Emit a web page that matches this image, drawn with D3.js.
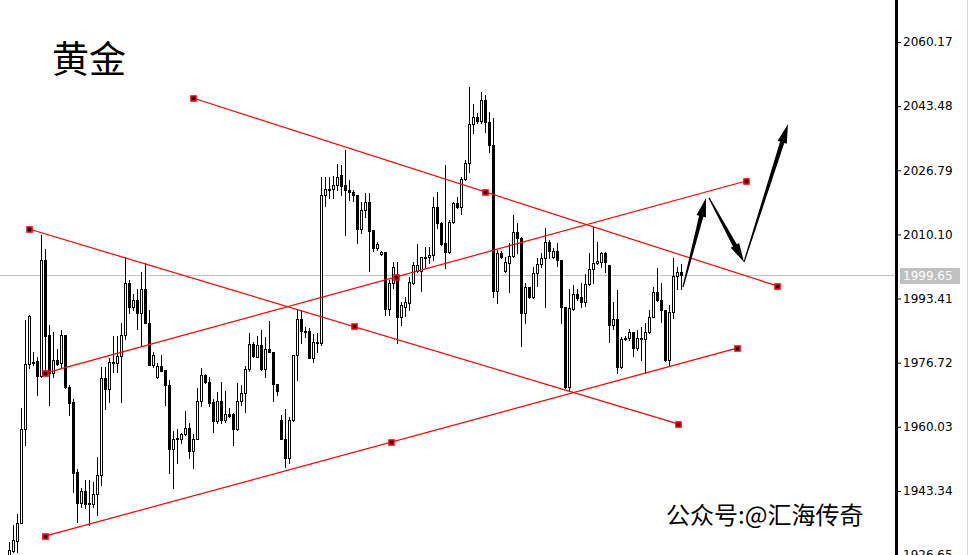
<!DOCTYPE html>
<html><head><meta charset="utf-8">
<script src="https://cdn.jsdelivr.net/npm/d3@7"></script>
<style>html,body{margin:0;padding:0;background:#fff;overflow:hidden}</style>
</head><body>
<svg id="c" width="968" height="555" xmlns="http://www.w3.org/2000/svg"></svg>
<script>
// ---- data ----
const opens = [
1926.7,1927.7,1930.3,1935.0,1959.5,1976.4,1976.9,1977.2,1973.3,2003.5,
1983.9,1974.1,1977.4,1976.7,1983.9,1970.4,1966.5,1948.3,1940.2,1943.3,
1940.0,1940.0,1942.6,1947.5,1972.8,1969.9,1976.7,1976.7,1978.5,1983.9,
1997.5,1991.2,1993.0,1989.7,1995.9,1987.1,1976.1,1973.0,1975.9,1974.8,
1970.9,1954.3,1956.9,1956.9,1958.2,1959.7,1953.8,1956.9,1966.8,1973.5,
1971.7,1966.5,1961.6,1966.8,1961.8,1963.4,1963.4,1959.5,1966.8,1968.8,
1975.1,1981.6,1978.2,1981.3,1975.1,1980.3,1979.5,1971.2,1961.8,1956.9,
1951.9,1961.8,1978.7,1988.1,1985.0,1985.0,1978.0,1981.9,1981.9,2020.4,
2021.7,2021.9,2023.0,2025.6,2023.0,2021.7,2021.1,2020.4,2011.5,2016.5,
2018.5,2011.3,2006.6,2005.0,2005.5,1990.7,1997.5,1999.0,1988.6,1991.2,
1992.3,1997.5,2000.6,2000.6,2004.0,2004.2,2004.8,2017.2,2013.1,2007.9,
2005.5,2013.3,2018.3,2017.2,2024.5,2028.7,2038.8,2040.7,2039.6,2045.1,
2039.4,2033.4,1995.4,2005.3,2000.6,2002.7,2004.5,2010.7,2009.2,1989.7,
1996.4,1993.8,2000.1,2002.4,2004.0,2008.1,2004.2,2005.8,2003.5,1991.2,
1970.4,1990.7,1994.6,1993.8,1992.5,1997.2,2001.1,2002.7,2002.9,2005.3,
2002.2,1986.5,1988.1,1975.6,1982.9,1983.2,1984.7,1980.6,1982.9,1982.9,
1984.7,1988.6,1995.1,1993.0,1990.4,1977.4,1989.9,1999.3,2000.3];
const highs = [
1930.1,1934.5,1937.4,1964.9,1987.8,1989.1,1979.5,1978.2,2010.0,2006.3,
1986.5,1984.7,1980.3,1985.2,1983.9,1970.9,1967.3,1949.1,1944.1,1946.2,
1946.2,1945.7,1952.2,1975.6,1975.6,1978.0,1983.7,1983.7,1987.1,2004.2,
1998.2,1994.6,1995.9,2000.3,2002.7,1990.4,1979.5,1976.7,1978.7,1974.8,
1972.2,1959.0,1959.5,1958.4,1964.2,1961.0,1958.2,1970.1,1975.4,1973.8,
1973.0,1967.3,1969.1,1971.7,1969.4,1964.9,1963.6,1971.4,1970.9,1975.9,
1984.5,1982.1,1983.7,1985.2,1983.4,1987.6,1979.5,1971.2,1963.1,1964.7,
1962.6,1978.7,1990.4,1990.4,1986.0,1985.8,1984.2,1984.5,2025.0,2025.0,
2025.0,2025.3,2028.4,2028.2,2032.1,2024.3,2021.7,2020.4,2018.5,2020.9,
2020.9,2011.3,2008.1,2005.8,2005.5,1998.2,2002.9,2002.9,1992.5,1993.8,
1999.0,2002.9,2007.6,2004.2,2006.8,2006.8,2019.8,2021.1,2013.3,2028.2,
2013.9,2018.5,2019.8,2025.0,2029.5,2048.5,2044.0,2041.7,2047.2,2046.4,
2042.0,2040.4,2006.1,2005.8,2004.2,2007.9,2015.2,2013.1,2009.4,1997.5,
1996.4,2001.6,2004.0,2005.3,2011.8,2008.7,2006.6,2007.9,2003.5,1991.2,
1995.9,1996.9,1995.9,1997.5,1999.8,2005.3,2012.0,2008.1,2005.5,2005.5,
2002.2,1992.5,1995.6,1983.4,1983.7,1985.5,1984.7,1985.2,1986.0,1987.1,
1990.4,1996.4,2001.4,1997.5,1990.4,1991.7,2004.0,2001.6,2002.4];
const lows = [
1926.4,1927.5,1927.5,1935.0,1955.3,1975.4,1976.1,1968.3,1973.0,1974.1,
1965.7,1973.0,1976.1,1975.6,1970.1,1963.1,1943.1,1935.3,1939.2,1938.9,
1934.5,1939.2,1937.1,1944.9,1964.7,1966.5,1974.3,1974.3,1966.5,1982.9,
1989.7,1990.4,1985.5,1981.1,1987.1,1976.1,1975.6,1972.8,1974.6,1965.7,
1948.0,1944.1,1950.6,1955.8,1957.9,1951.9,1949.3,1956.9,1965.5,1971.4,
1965.5,1958.7,1961.0,1961.0,1961.3,1962.6,1955.3,1959.2,1965.7,1963.9,
1974.6,1978.2,1978.2,1974.8,1973.0,1979.5,1966.8,1968.3,1956.9,1949.6,
1950.6,1961.6,1972.2,1981.9,1983.4,1978.0,1976.9,1979.5,1981.3,2017.5,
2019.6,2019.6,2021.7,2020.4,2010.0,2019.1,2018.8,2007.9,2010.5,2014.6,
2000.6,2005.8,2006.1,2004.8,1989.1,1989.1,1996.2,1981.9,1986.5,1988.9,
1990.4,1997.2,2000.3,1995.4,2001.6,2002.7,2003.5,2011.8,2007.4,2001.4,
2005.3,2013.1,2017.0,2015.4,2024.3,2026.4,2036.5,2039.1,2039.1,2036.8,
2031.5,1993.8,1992.3,2004.0,2000.3,1995.1,2004.2,2005.3,1981.1,1987.1,
1993.6,1993.6,1996.7,2001.6,1991.2,2004.0,2004.0,2001.9,1987.1,1970.1,
1969.6,1990.4,1993.0,1991.2,1991.5,1996.9,1997.5,2002.4,2001.6,2000.3,
1982.1,1985.5,1974.1,1975.4,1982.6,1982.6,1978.5,1980.0,1977.4,1974.1,
1984.5,1988.6,1992.8,1987.3,1977.2,1975.9,1988.4,1995.9,1995.9];
const closes = [
1928.0,1930.6,1935.0,1959.5,1976.4,1988.9,1976.7,1973.3,2003.5,1983.7,
1974.1,1977.4,1976.4,1983.9,1970.4,1966.2,1948.0,1940.2,1943.3,1940.0,
1940.2,1942.6,1947.5,1972.8,1969.9,1976.9,1976.9,1978.5,1983.9,1997.5,
1991.2,1993.0,1989.7,1995.9,1987.1,1976.1,1978.7,1975.9,1974.6,1970.9,
1954.3,1956.9,1957.1,1958.2,1959.7,1953.8,1956.9,1966.8,1973.5,1971.7,
1966.2,1961.6,1966.8,1961.8,1963.4,1962.9,1959.5,1966.8,1968.8,1975.1,
1981.6,1978.5,1981.3,1975.1,1980.3,1979.5,1971.2,1969.4,1956.9,1951.9,
1961.8,1978.7,1988.1,1985.0,1984.7,1978.0,1982.1,1982.1,2020.4,2021.9,
2021.9,2023.0,2025.0,2022.7,2021.7,2021.1,2020.4,2011.5,2016.5,2018.5,
2011.0,2006.6,2007.6,2005.5,1990.7,1997.5,2001.6,1988.6,1991.7,1992.5,
1997.7,2002.2,2002.2,2004.2,2004.2,2004.8,2017.2,2013.1,2007.6,2005.5,
2013.3,2018.3,2017.2,2024.5,2028.7,2038.8,2040.7,2039.6,2045.1,2039.4,
2033.4,1995.4,2005.3,2004.2,2002.9,2004.5,2010.7,2009.2,1989.7,1996.4,
1993.8,2000.1,2002.4,2004.0,2008.1,2005.8,2005.8,2003.5,1991.2,1970.4,
1991.0,1994.6,1993.6,1992.5,1997.2,2001.1,2002.7,2003.2,2005.3,2002.9,
1986.5,1988.1,1975.6,1982.9,1983.2,1984.7,1980.6,1983.2,1983.2,1984.7,
1988.6,1995.1,1993.0,1990.4,1977.4,1989.9,1999.3,2000.3,1999.65];

const tickLabels = ["2060.17","2043.48","2026.79","2010.10","1993.41","1976.72","1960.03","1943.34","1926.65"];
const lastPrice = 1999.65;

// trend lines: [bar index, price] start / end
const trendStarts = [[46,2045.6],[5,2011.5],[9,1974.0],[9,1931.6]];
const trendEnds   = [[192,1996.7],[167.25,1960.8],[184.25,2024.0],[182,1980.5]];
// forecast arrows: [bar index, price] start / tip
const arrowStarts = [[168.5,1996.4],[175,2019.6],[183.75,2002.9]];
const arrowTips   = [[174.25,2019.6],[183.75,2002.9],[194.75,2038.8]];

const titleText = "黄金";
const watermark = "公众号:@汇海传奇";

// ---- drawing ----
const W = 968, H = 555, plotRight = 895;
const svg = d3.select("#c");
const bars = opens.map((o,i)=>({i, o, h:highs[i], l:lows[i], c:closes[i]}));

const x = d3.scaleLinear().domain([0, bars.length-1]).range([9, 9 + 4*(bars.length-1)]);
const y = d3.scaleLinear().domain([+tickLabels[tickLabels.length-1], +tickLabels[0]]).range([555.1, 42]);

svg.append("rect").attr("width",W).attr("height",H).attr("fill","#fff");

svg.append("defs").append("clipPath").attr("id","plot")
  .append("rect").attr("x",0).attr("y",0).attr("width",plotRight).attr("height",H);
const plot = svg.append("g").attr("clip-path","url(#plot)");

// current price line
plot.append("line")
  .attr("x1",0).attr("x2",plotRight)
  .attr("y1",Math.round(y(lastPrice))+0.5).attr("y2",Math.round(y(lastPrice))+0.5)
  .attr("stroke","#c0c0c0").attr("stroke-width",1);

// candles
const cg = plot.append("g");
const px = d => Math.round(x(d));
const py = v => Math.round(y(v));
cg.selectAll("line.wick").data(bars).join("line").attr("class","wick")
  .attr("x1",d=>px(d.i)+0.5).attr("x2",d=>px(d.i)+0.5)
  .attr("y1",d=>py(d.h)).attr("y2",d=>py(d.l)+1)
  .attr("stroke","#000").attr("stroke-width",1);
cg.selectAll("rect.body").data(bars).join("rect").attr("class","body")
  .attr("x",d=>px(d.i)-0.5)
  .attr("y",d=>py(Math.max(d.o,d.c))+0.5)
  .attr("width",2)
  .attr("height",d=>Math.max(0, py(Math.min(d.o,d.c))-py(Math.max(d.o,d.c))))
  .attr("fill",d=>d.c>d.o?"#fff":"#000")
  .attr("stroke","#000").attr("stroke-width",1);

// trend lines
const tl = trendStarts.map((s,k)=>({s, e:trendEnds[k]}));
const tg = plot.append("g");
tg.selectAll("line").data(tl).join("line")
  .attr("x1",d=>x(d.s[0])).attr("y1",d=>y(d.s[1]))
  .attr("x2",d=>x(d.e[0])).attr("y2",d=>y(d.e[1]))
  .attr("stroke","#ff0000").attr("stroke-width",1.2);
const markers = [];
tl.forEach(d=>{
  markers.push(d.s, d.e, [(d.s[0]+d.e[0])/2, (d.s[1]+d.e[1])/2]);
});
tg.selectAll("rect").data(markers).join("rect")
  .attr("x",d=>Math.round(x(d[0]))-2).attr("y",d=>Math.round(y(d[1]))-2)
  .attr("width",5).attr("height",5)
  .attr("fill","#000").attr("stroke","#ff0000").attr("stroke-width",1.6);

// arrows
const ag = plot.append("g");
const arrows = arrowStarts.map((s,k)=>({s, t:arrowTips[k]}));
ag.selectAll("path").data(arrows).join("path")
  .attr("d", d=>{
    const sx=x(d.s[0]), sy=y(d.s[1]), tx=x(d.t[0]), ty=y(d.t[1]);
    const dx=tx-sx, dy=ty-sy, len=Math.hypot(dx,dy);
    const ux=dx/len, uy=dy/len, nx=-uy, ny=ux;
    const hl=19, hw=4.8, w0=0.6, w1=2.2;
    const bx=tx-ux*hl, by=ty-uy*hl;
    const pts=[
      [sx+nx*w0, sy+ny*w0],[bx+nx*w1, by+ny*w1],[bx+nx*hw, by+ny*hw],[tx,ty],
      [bx-nx*hw, by-ny*hw],[bx-nx*w1, by-ny*w1],[sx-nx*w0, sy-ny*w0]];
    return "M"+pts.map(p=>p[0].toFixed(2)+","+p[1].toFixed(2)).join("L")+"Z";
  })
  .attr("fill","#000");

// price axis
svg.append("rect").attr("x",895).attr("y",0).attr("width",3).attr("height",H).attr("fill","#000");
svg.append("line").attr("x1",967.5).attr("x2",967.5).attr("y1",0).attr("y2",H)
  .attr("stroke","#d8d8d8").attr("stroke-width",1);
const axis = d3.axisRight(y).tickValues(tickLabels.map(Number))
  .tickFormat((d,k)=>tickLabels[k]).tickSize(3).tickPadding(2);
const axg = svg.append("g").attr("transform","translate(898,0)").call(axis);
axg.select(".domain").remove();
axg.selectAll(".tick line").attr("stroke","#000");
axg.selectAll(".tick text").attr("fill","#000")
  .attr("font-family","DejaVu Sans, sans-serif").attr("font-size",12);

// last price label
const ly = Math.round(y(lastPrice));
svg.append("rect").attr("x",900).attr("y",ly-7).attr("width",60).attr("height",16).attr("fill","#c0c0c0");
svg.append("text").attr("x",903).attr("y",ly+1).attr("dy","0.32em")
  .attr("fill","#fff").attr("font-family","DejaVu Sans, sans-serif").attr("font-size",12)
  .text(lastPrice.toFixed(2));

// texts
svg.append("text").attr("x",52).attr("y",73)
  .attr("font-family","Noto Sans CJK SC, sans-serif").attr("font-size",37).attr("fill","#000")
  .text(titleText);
svg.append("text").attr("x",666).attr("y",524)
  .attr("font-family","Noto Sans CJK SC, sans-serif").attr("font-size",24).attr("fill","#000")
  .text(watermark);
</script>
</body></html>
